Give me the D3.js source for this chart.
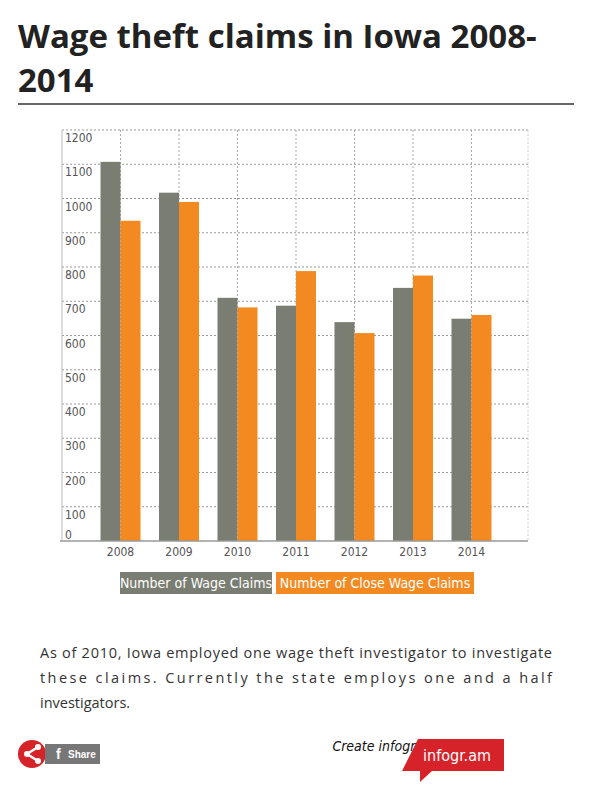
<!DOCTYPE html>
<html><head><meta charset="utf-8">
<script src="https://cdn.jsdelivr.net/npm/d3@7"></script>
<style>body{margin:0;background:#fff;font-family:"Open Sans",sans-serif}</style>
</head><body>
<svg id="c" width="594" height="797"></svg>
<script>
const years = ["2008","2009","2010","2011","2012","2013","2014"];
const wageClaims = [1107, 1017, 710, 687, 639, 739, 649];
const closedClaims = [935, 990, 682, 788, 607, 775, 660];
const yTicks = [0,100,200,300,400,500,600,700,800,900,1000,1100,1200];
const seriesNames = ["Number of Wage Claims", "Number of Close Wage Claims"];
const colors = ["#7a7e72", "#f38a21"];

const svg = d3.select("#c");
const font = "'Liberation Sans Narrow','DejaVu Sans Condensed',sans-serif";

svg.append("text").attr("x",18).attr("y",48).attr("font-size",33).attr("font-weight",700)
  .attr("fill","#222").attr("font-family","'Open Sans',sans-serif").text("Wage theft claims in Iowa 2008-");
svg.append("text").attr("x",18).attr("y",92).attr("font-size",33).attr("font-weight",700)
  .attr("fill","#222").attr("font-family","'Open Sans',sans-serif").text("2014");
svg.append("line").attr("x1",18).attr("x2",574).attr("y1",104).attr("y2",104).attr("stroke","#333").attr("stroke-width",1.5);

const pLeft = 62, pRight = 528, pTop = 130, pBottom = 541;
const y = d3.scaleLinear().domain([0,1200]).range([pBottom, pTop]);
const x = d3.scalePoint().domain(["", ...years, " "]).range([pLeft, pLeft + 58.5*8]);

const g = svg.append("g");
g.selectAll(".hg").data(yTicks.filter(d=>d>0)).join("line")
  .attr("x1",pLeft).attr("x2",pRight).attr("y1",d=>y(d)).attr("y2",d=>y(d))
  .attr("stroke","#999").attr("stroke-dasharray","2,2").attr("stroke-width",1);
g.selectAll(".vg").data(years).join("line")
  .attr("x1",d=>x(d)).attr("x2",d=>x(d)).attr("y1",pTop).attr("y2",pBottom)
  .attr("stroke","#aaa").attr("stroke-dasharray","2,2").attr("stroke-width",1);
g.append("line").attr("x1",pLeft).attr("x2",pLeft).attr("y1",pTop).attr("y2",pBottom).attr("stroke","#bbb");
g.append("line").attr("x1",pRight).attr("x2",pRight).attr("y1",pTop).attr("y2",pBottom).attr("stroke","#ccc").attr("stroke-dasharray","2,2");

const bw = 20;
g.selectAll(".b1").data(wageClaims).join("rect")
  .attr("x",(d,i)=>x(years[i])-bw).attr("width",bw)
  .attr("y",d=>y(d)).attr("height",d=>pBottom-y(d)).attr("fill",colors[0]);
g.selectAll(".b2").data(closedClaims).join("rect")
  .attr("x",(d,i)=>x(years[i])).attr("width",bw)
  .attr("y",d=>y(d)).attr("height",d=>pBottom-y(d)).attr("fill",colors[1]);

g.append("line").attr("x1",pLeft-2).attr("x2",pRight).attr("y1",pBottom).attr("y2",pBottom).attr("stroke","#999").attr("stroke-width",1.5);

g.selectAll(".yl").data(yTicks).join("text")
  .attr("x",pLeft+3).attr("y",d=>d===0?y(d)-2:y(d)+12)
  .attr("font-size",12).attr("fill","#555").attr("font-family",font).text(d=>d);
g.selectAll(".xl").data(years).join("text")
  .attr("x",d=>x(d)).attr("y",pBottom+15).attr("text-anchor","middle")
  .attr("font-size",12).attr("fill","#555").attr("font-family",font).text(d=>d);

// legend
const lg = [{x:120,w:152},{x:276,w:198}];
seriesNames.forEach((n,i)=>{
  svg.append("rect").attr("x",lg[i].x).attr("y",572).attr("width",lg[i].w).attr("height",22).attr("fill",colors[i]);
  svg.append("text").attr("x",lg[i].x+lg[i].w/2).attr("y",588).attr("text-anchor","middle")
    .attr("font-size",14).attr("fill","#fff").attr("font-family",font).text(n);
});

// paragraph
const para = [
  ["As of 2010, Iowa employed one wage theft investigator to investigate", true],
  ["these claims. Currently the state employs one and a half", true],
  ["investigators.", false]];
para.forEach((p,i)=>{
  const t = svg.append("text").attr("x",40).attr("y",658+i*25).attr("font-size",14.5)
    .attr("fill","#333").attr("font-family","'Open Sans',sans-serif").text(p[0]);
  if (p[1]) t.attr("textLength",512).attr("lengthAdjust","spacing");
});

// footer
svg.append("circle").attr("cx",32).attr("cy",754).attr("r",14).attr("fill","#d6232a");
svg.append("path").attr("d","M38,747 L27,754 L38,761").attr("fill","none").attr("stroke","#fff").attr("stroke-width",2.5);
[[38,747],[27,754],[38,761]].forEach(p=>svg.append("circle").attr("cx",p[0]).attr("cy",p[1]).attr("r",3).attr("fill","#fff"));
svg.append("rect").attr("x",45).attr("y",744).attr("width",55).attr("height",20).attr("fill","#777");
svg.append("text").attr("x",56).attr("y",759).attr("font-size",14).attr("font-weight",700).attr("fill","#fff").attr("font-family","sans-serif").text("f");
svg.append("text").attr("x",68).attr("y",758).attr("font-size",10).attr("font-weight",700).attr("fill","#fff").attr("font-family","sans-serif").text("Share");
svg.append("text").attr("x",456).attr("y",751).attr("text-anchor","end").attr("font-size",14).attr("font-style","italic")
  .attr("fill","#111").attr("font-family",font).text("Create infographics");
svg.append("path").attr("d","M418,739 L504,739 L504,771 L432,771 L420,782 L420,771 L402,771 Z").attr("fill","#d6232a");
svg.append("text").attr("x",457).attr("y",761).attr("text-anchor","middle").attr("font-size",16)
  .attr("fill","#fff").attr("font-family",font).text("infogr.am");
</script>
</body></html>
